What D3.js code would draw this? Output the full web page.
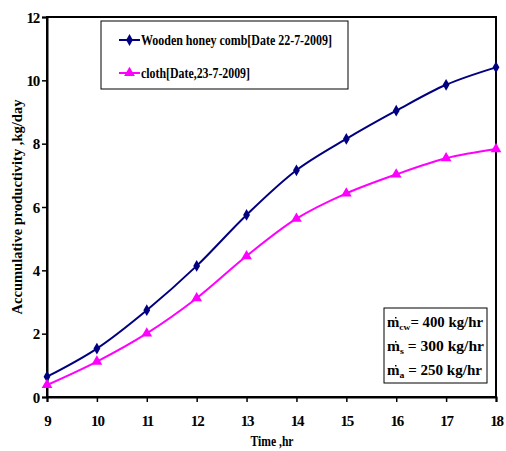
<!DOCTYPE html>
<html><head><meta charset="utf-8">
<script src="https://cdn.jsdelivr.net/npm/d3@7"></script>
<style>body{margin:0;background:#fff}svg{display:block}</style>
</head><body><div id="c"></div>
<script>
const hours = [9,10,11,12,13,14,15,16,17,18];
const wooden = [0.64,1.53,2.74,4.14,5.75,7.16,8.15,9.04,9.86,10.41];
const cloth = [0.38,1.12,2.01,3.12,4.45,5.63,6.43,7.03,7.54,7.83];
const yTicks = [0,2,4,6,8,10,12];
const seriesNames = ["Wooden honey comb[Date 22-7-2009]","cloth[Date,23-7-2009]"];
const noteLines = [["cw","= 400 kg/hr"],["s","  = 300 kg/hr"],["a"," = 250 kg/hr"]];

const FF="'Liberation Serif','Times New Roman',Times,serif";
const W=506,H=451;
const svg=d3.select("#c").append("svg").attr("width",W).attr("height",H)
  .attr("font-family",FF).attr("font-weight","bold");
const x=d3.scaleLinear().domain([9,18]).range([47,496]);
const y=d3.scaleLinear().domain([0,12]).range([397,17]);

svg.append("rect").attr("x",47).attr("y",17).attr("width",449).attr("height",380)
  .attr("fill","none").attr("stroke","#000").attr("stroke-width",2);

const xa=svg.append("g").attr("transform","translate(0,397)")
  .call(d3.axisBottom(x).tickValues(hours).tickSize(5).tickFormat(d3.format("d")));
const ya=svg.append("g").attr("transform","translate(47,0)")
  .call(d3.axisLeft(y).tickValues(yTicks).tickSize(5));
[xa,ya].forEach(a=>{a.attr("font-family",FF).attr("font-weight","bold");
  a.select(".domain").attr("stroke-width",2);a.selectAll(".tick line").attr("stroke-width",1.5);
  a.selectAll("text").attr("font-size",15).attr("fill","#000").style("letter-spacing","-1.2px");});
xa.selectAll("text").attr("dy",null).attr("y",29);
ya.selectAll("text").attr("x",-8).attr("dy","0.35em");

svg.append("text").attr("x",272).attr("y",446).attr("text-anchor","middle").attr("font-size",14)
  .attr("textLength",43).attr("lengthAdjust","spacingAndGlyphs").text("Time ,hr");
svg.append("text").attr("transform","translate(22,207) rotate(-90)").attr("text-anchor","middle")
  .attr("font-size",14).attr("textLength",215).attr("lengthAdjust","spacingAndGlyphs")
  .text("Accumulative productivity ,kg/day");

const line=d3.line().x((d,i)=>x(hours[i])).y(d=>y(d)).curve(d3.curveCatmullRom.alpha(0.5));
const cols=["#000080","#FF00FF"];
const sym=[d3.symbol().type(d3.symbolDiamond).size(40),d3.symbol().type(d3.symbolTriangle).size(50)];
[wooden,cloth].forEach((s,k)=>{
  svg.append("path").datum(s).attr("d",line).attr("fill","none").attr("stroke",cols[k]).attr("stroke-width",2);
  svg.append("g").selectAll("path").data(s).join("path")
    .attr("transform",(d,i)=>`translate(${x(hours[i])},${y(d)})`).attr("d",sym[k]()).attr("fill",cols[k]);
});

svg.append("rect").attr("x",101).attr("y",21).attr("width",247).attr("height",68)
  .attr("fill","#fff").attr("stroke","#000").attr("stroke-width",1);
const lw=[191,109];
seriesNames.forEach((n,k)=>{
  const yy=[40,73][k];
  svg.append("line").attr("x1",119).attr("x2",140).attr("y1",yy).attr("y2",yy).attr("stroke",cols[k]).attr("stroke-width",2);
  svg.append("path").attr("transform",`translate(129.5,${yy})`).attr("d",sym[k]()).attr("fill",cols[k]);
  svg.append("text").attr("x",141).attr("y",yy+5).attr("font-size",14)
    .attr("textLength",lw[k]).attr("lengthAdjust","spacingAndGlyphs").text(n);
});

svg.append("rect").attr("x",384).attr("y",308).attr("width",103).attr("height",75)
  .attr("fill","#fff").attr("stroke","#000").attr("stroke-width",1);
const nl=[96,97,95];
noteLines.forEach((l,i)=>{
  const yy=[327,351,375][i];
  const t=svg.append("text").attr("x",387).attr("y",yy).attr("font-size",14)
    .attr("textLength",nl[i]).attr("lengthAdjust","spacingAndGlyphs");
  t.append("tspan").text("m");
  t.append("tspan").attr("font-size",9).attr("dy",3).text(l[0]);
  t.append("tspan").attr("dy",-3).text(l[1]);
  svg.append("rect").attr("x",395).attr("y",yy-10).attr("width",1.5).attr("height",1.5).attr("fill","#000");
});
</script></body></html>
